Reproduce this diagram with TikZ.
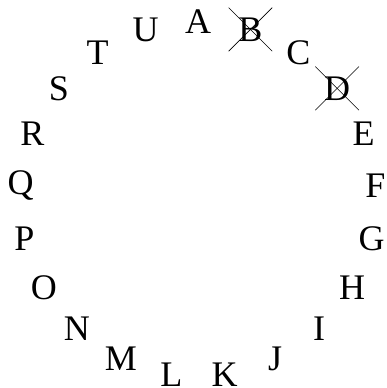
\documentclass[tikz,border=0pt]{standalone}
\usepackage{fontspec}
\setmainfont{Liberation Serif}
\usetikzlibrary{shapes.misc}
\tikzset{
  letter/.style={inner sep=0pt, font=\fontsize{36}{40}\selectfont},
  nocross/.style={},
  crossed/.style={cross out, draw, line width=0.6pt, minimum size=43pt}
}
\begin{document}
\begin{tikzpicture}[x=1pt,y=-1pt]
\useasboundingbox (0,0) rectangle (386,388);
\foreach \l/\s [count=\i from 0] in {A/nocross,B/crossed,C/nocross,D/crossed,E/nocross,F/nocross,G/nocross,H/nocross,I/nocross,J/nocross,K/nocross,L/nocross,M/nocross,N/nocross,O/nocross,P/nocross,Q/nocross,R/nocross,S/nocross,T/nocross,U/nocross}{
  \node[letter,\s] (\l) at ({198+178*sin(\i*360/21)},{199-177.5*cos(\i*360/21)}) {\l};
}
\end{tikzpicture}
\end{document}
